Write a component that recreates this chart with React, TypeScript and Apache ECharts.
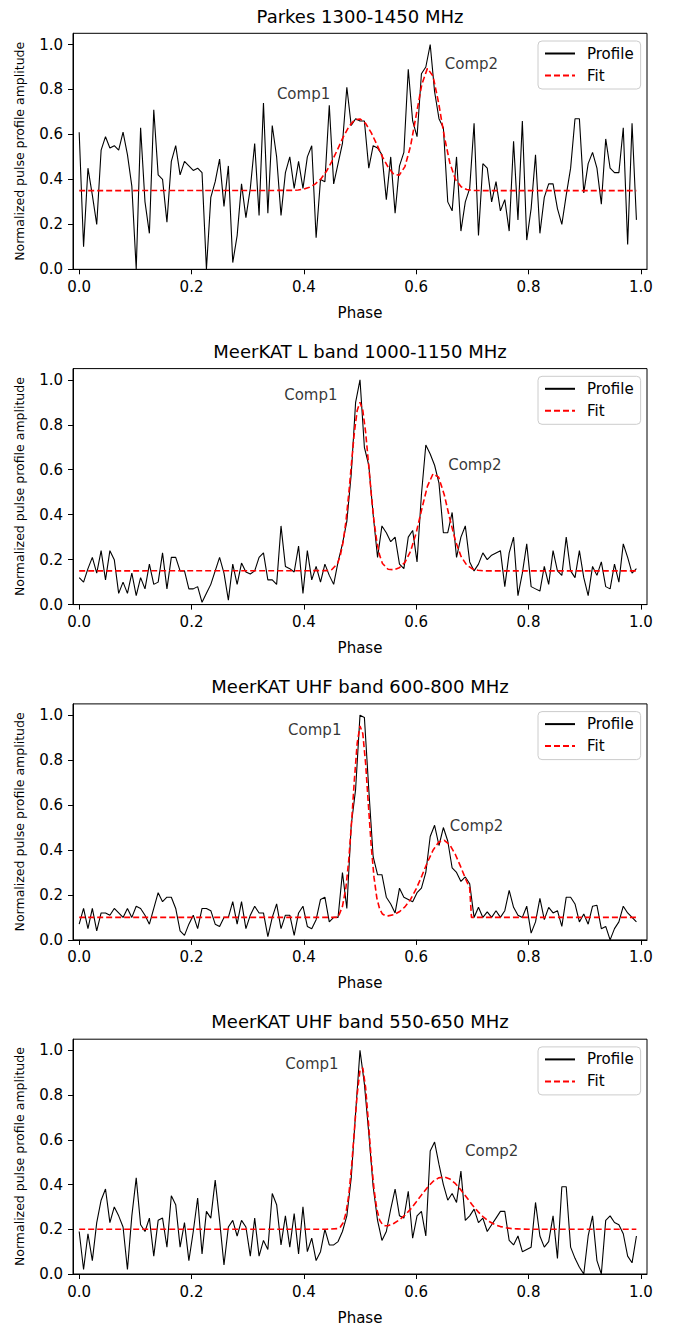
import React, { useEffect, useRef } from 'react';
import * as echarts from 'echarts';

const FONT = '"DejaVu Sans", sans-serif';
const W = 676;
const H = 1326;

const panelTitles = [
  'Parkes 1300-1450 MHz',
  'MeerKAT L band 1000-1150 MHz',
  'MeerKAT UHF band 600-800 MHz',
  'MeerKAT UHF band 550-650 MHz',
];

const xTickValues = [0, 0.2, 0.4, 0.6, 0.8, 1.0];
const yTickValues = [0, 0.2, 0.4, 0.6, 0.8, 1.0];
const nBins = 128;

const profile1 = [
  0.61, 0.10, 0.45, 0.33, 0.20, 0.53, 0.59, 0.54, 0.55, 0.53,
  0.61, 0.51, 0.37, 0.00, 0.63, 0.30, 0.16, 0.71, 0.42, 0.40,
  0.21, 0.48, 0.55, 0.42, 0.48, 0.46, 0.44, 0.45, 0.43, 0.00,
  0.32, 0.39, 0.49, 0.28, 0.46, 0.03, 0.15, 0.38, 0.23, 0.36,
  0.56, 0.24, 0.74, 0.25, 0.64, 0.50, 0.24, 0.43, 0.50, 0.36,
  0.48, 0.36, 0.50, 0.55, 0.14, 0.40, 0.39, 0.73, 0.38, 0.47,
  0.56, 0.81, 0.64, 0.67, 0.66, 0.66, 0.45, 0.55, 0.54, 0.51,
  0.31, 0.50, 0.25, 0.46, 0.52, 0.89, 0.66, 0.59, 0.87, 0.90,
  1.00, 0.79, 0.67, 0.63, 0.30, 0.26, 0.50, 0.17, 0.30, 0.36,
  0.65, 0.15, 0.47, 0.45, 0.30, 0.39, 0.26, 0.31, 0.17, 0.57,
  0.22, 0.66, 0.13, 0.27, 0.51, 0.16, 0.32, 0.38, 0.38, 0.27,
  0.20, 0.33, 0.45, 0.67, 0.67, 0.34, 0.47, 0.52, 0.45, 0.29,
  0.58, 0.45, 0.43, 0.43, 0.63, 0.11, 0.65, 0.22,
];

const profile2 = [
  0.12, 0.10, 0.16, 0.21, 0.14, 0.24, 0.11, 0.24, 0.20, 0.05,
  0.10, 0.05, 0.14, 0.04, 0.12, 0.07, 0.18, 0.09, 0.10, 0.23,
  0.07, 0.21, 0.21, 0.15, 0.15, 0.07, 0.07, 0.08, 0.01, 0.05,
  0.09, 0.15, 0.21, 0.14, 0.02, 0.18, 0.09, 0.185, 0.145, 0.136,
  0.15, 0.21, 0.23, 0.11, 0.11, 0.09, 0.35, 0.17, 0.16, 0.145,
  0.26, 0.05, 0.24, 0.11, 0.17, 0.10, 0.18, 0.13, 0.09, 0.19,
  0.27, 0.37, 0.58, 0.90, 1.00, 0.70, 0.62, 0.40, 0.21, 0.35,
  0.32, 0.28, 0.30, 0.18, 0.16, 0.30, 0.33, 0.19, 0.49, 0.71,
  0.67, 0.62, 0.54, 0.32, 0.32, 0.41, 0.21, 0.30, 0.35, 0.19,
  0.15, 0.18, 0.23, 0.20, 0.22, 0.23, 0.24, 0.08, 0.23, 0.30,
  0.04, 0.14, 0.27, 0.08, 0.07, 0.06, 0.17, 0.09, 0.24, 0.15,
  0.13, 0.30, 0.15, 0.12, 0.24, 0.12, 0.04, 0.17, 0.13, 0.19,
  0.08, 0.07, 0.18, 0.10, 0.27, 0.21, 0.14, 0.16,
];

const profile3 = [
  0.07, 0.14, 0.05, 0.14, 0.04, 0.12, 0.12, 0.11, 0.14, 0.12,
  0.10, 0.14, 0.10, 0.15, 0.14, 0.11, 0.07, 0.14, 0.21, 0.17,
  0.19, 0.19, 0.14, 0.04, 0.02, 0.07, 0.11, 0.05, 0.14, 0.14,
  0.13, 0.07, 0.06, 0.10, 0.10, 0.17, 0.07, 0.17, 0.05, 0.11,
  0.15, 0.12, 0.12, 0.015, 0.10, 0.16, 0.05, 0.11, 0.11, 0.02,
  0.12, 0.15, 0.06, 0.05, 0.09, 0.18, 0.19, 0.08, 0.10, 0.10,
  0.30, 0.14, 0.51, 0.67, 1.00, 0.99, 0.67, 0.37, 0.29, 0.29,
  0.19, 0.16, 0.12, 0.23, 0.19, 0.18, 0.17, 0.21, 0.23, 0.30,
  0.46, 0.51, 0.42, 0.50, 0.44, 0.32, 0.30, 0.26, 0.28, 0.25,
  0.10, 0.145, 0.10, 0.125, 0.10, 0.13, 0.10, 0.13, 0.22, 0.145,
  0.11, 0.10, 0.15, 0.03, 0.08, 0.185, 0.09, 0.145, 0.12, 0.13,
  0.06, 0.19, 0.19, 0.16, 0.08, 0.115, 0.07, 0.15, 0.154, 0.05,
  0.06, 0.00, 0.05, 0.08, 0.15, 0.12, 0.10, 0.08,
];

const profile4 = [
  0.19, 0.02, 0.18, 0.06, 0.23, 0.33, 0.38, 0.23, 0.30, 0.26,
  0.21, 0.02, 0.26, 0.43, 0.22, 0.19, 0.25, 0.08, 0.24, 0.25,
  0.12, 0.35, 0.31, 0.12, 0.23, 0.06, 0.19, 0.34, 0.09, 0.28,
  0.25, 0.42, 0.24, 0.04, 0.21, 0.24, 0.17, 0.24, 0.21, 0.08,
  0.25, 0.08, 0.15, 0.11, 0.36, 0.31, 0.13, 0.26, 0.12, 0.27,
  0.09, 0.30, 0.10, 0.16, 0.06, 0.10, 0.20, 0.13, 0.13, 0.145,
  0.19, 0.26, 0.43, 0.72, 1.00, 0.85, 0.63, 0.39, 0.24, 0.15,
  0.19, 0.29, 0.38, 0.26, 0.25, 0.37, 0.16, 0.26, 0.28, 0.17,
  0.55, 0.59, 0.49, 0.40, 0.33, 0.36, 0.32, 0.46, 0.24, 0.26,
  0.29, 0.23, 0.25, 0.19, 0.22, 0.25, 0.28, 0.28, 0.15, 0.13,
  0.17, 0.10, 0.11, 0.12, 0.32, 0.17, 0.12, 0.145, 0.26, 0.07,
  0.39, 0.39, 0.12, 0.07, 0.03, 0.00, 0.17, 0.26, 0.06, 0.00,
  0.24, 0.26, 0.23, 0.22, 0.18, 0.08, 0.05, 0.17,
];

const fit1 = [
  [0, 0.35], [0.38, 0.351], [0.39, 0.353], [0.40, 0.357], [0.41, 0.365], [0.42, 0.379],
  [0.43, 0.401], [0.44, 0.435], [0.45, 0.48], [0.46, 0.533], [0.47, 0.588], [0.48, 0.634],
  [0.49, 0.664], [0.50, 0.669], [0.51, 0.649], [0.52, 0.608], [0.53, 0.555], [0.54, 0.50],
  [0.55, 0.455], [0.56, 0.423], [0.57, 0.419], [0.58, 0.457], [0.59, 0.548], [0.60, 0.685],
  [0.61, 0.822], [0.62, 0.894], [0.63, 0.86], [0.64, 0.74], [0.65, 0.592], [0.66, 0.473],
  [0.67, 0.40], [0.68, 0.367], [0.69, 0.355], [0.70, 0.351], [0.72, 0.35], [0.992, 0.35],
];

const fit2 = [
  [0, 0.15], [0.44, 0.151], [0.45, 0.156], [0.46, 0.183], [0.465, 0.219], [0.47, 0.279],
  [0.475, 0.371], [0.48, 0.493], [0.485, 0.633], [0.49, 0.767], [0.495, 0.864], [0.50, 0.90],
  [0.505, 0.864], [0.51, 0.767], [0.515, 0.633], [0.52, 0.493], [0.525, 0.371], [0.53, 0.279],
  [0.535, 0.219], [0.54, 0.183], [0.55, 0.157], [0.56, 0.155], [0.57, 0.164], [0.58, 0.188],
  [0.59, 0.237], [0.60, 0.319], [0.61, 0.425], [0.62, 0.526], [0.63, 0.582], [0.64, 0.567],
  [0.65, 0.489], [0.66, 0.381], [0.67, 0.283], [0.68, 0.214], [0.69, 0.176], [0.70, 0.159],
  [0.71, 0.153], [0.72, 0.15], [0.992, 0.15],
];

const fit3 = [
  [0, 0.10], [0.4609, 0.10], [0.46875, 0.149], [0.475, 0.234], [0.48, 0.355], [0.485, 0.524],
  [0.49, 0.713], [0.495, 0.875], [0.50, 0.952], [0.505, 0.918], [0.51, 0.785], [0.515, 0.599],
  [0.52, 0.418], [0.525, 0.277], [0.53, 0.186], [0.535, 0.137], [0.54, 0.115], [0.545, 0.108],
  [0.55, 0.107], [0.56, 0.112], [0.57, 0.125], [0.58, 0.147], [0.59, 0.18], [0.60, 0.227],
  [0.61, 0.284], [0.62, 0.345], [0.63, 0.399], [0.64, 0.435], [0.65, 0.443], [0.66, 0.423],
  [0.67, 0.379], [0.68, 0.321], [0.69, 0.26], [0.6953, 0.231], [0.6985, 0.10], [0.992, 0.10],
];

const fit4 = [
  [0, 0.20], [0.44, 0.20], [0.46, 0.203], [0.465, 0.21], [0.47, 0.229], [0.475, 0.272],
  [0.48, 0.353], [0.485, 0.48], [0.49, 0.643], [0.495, 0.804], [0.50, 0.912], [0.505, 0.922],
  [0.51, 0.833], [0.515, 0.678], [0.52, 0.512], [0.525, 0.378], [0.53, 0.289], [0.535, 0.241],
  [0.54, 0.221], [0.545, 0.216], [0.55, 0.216], [0.56, 0.226], [0.57, 0.242], [0.58, 0.263],
  [0.59, 0.29], [0.60, 0.322], [0.61, 0.355], [0.62, 0.387], [0.63, 0.414], [0.64, 0.43],
  [0.65, 0.434], [0.66, 0.425], [0.67, 0.404], [0.68, 0.375], [0.69, 0.342], [0.70, 0.309],
  [0.71, 0.279], [0.72, 0.254], [0.73, 0.235], [0.74, 0.221], [0.75, 0.212], [0.76, 0.207],
  [0.77, 0.203], [0.78, 0.202], [0.80, 0.20], [0.992, 0.20],
];

const annotations1 = [[0.352, 0.78, 'Comp1'], [0.651, 0.914, 'Comp2']];
const annotations2 = [[0.365, 0.932, 'Comp1'], [0.657, 0.622, 'Comp2']];
const annotations3 = [[0.372, 0.932, 'Comp1'], [0.66, 0.505, 'Comp2']];
const annotations4 = [[0.367, 0.937, 'Comp1'], [0.687, 0.551, 'Comp2']];

const profiles = [profile1, profile2, profile3, profile4];
const fits = [fit1, fit2, fit3, fit4];
const annotations = [annotations1, annotations2, annotations3, annotations4];

// layout (pixels)
const GRID_LEFT = 73;
const GRID_TOP = 33.3;
const GRID_W = 574;
const GRID_H = 236;
const PANEL_STEP = 335.3;
const LABEL_SIZE = 15;

export default function App() {
  const ref = useRef<HTMLDivElement>(null);

  useEffect(() => {
    if (!ref.current) return;
    const chart = echarts.init(ref.current, null, { renderer: 'svg', width: W, height: H });

    const grid: any[] = [];
    const xAxis: any[] = [];
    const yAxis: any[] = [];
    const series: any[] = [];
    const legend: any[] = [];
    const graphic: any[] = [];

    panelTitles.forEach((title, k) => {
      const top = GRID_TOP + PANEL_STEP * k;
      grid.push({
        left: GRID_LEFT, top, width: GRID_W, height: GRID_H,
        show: true, borderColor: '#000', borderWidth: 1, backgroundColor: '#fff',
        containLabel: false,
      });
      xAxis.push({
        type: 'value', gridIndex: k, min: -0.011, max: 1.011,
        splitLine: { show: false },
        axisLine: { show: true, onZero: false, lineStyle: { color: '#000', width: 1 } },
        axisTick: { show: true, length: 5, inside: false, customValues: xTickValues, lineStyle: { color: '#000', width: 1 } },
        axisLabel: {
          customValues: xTickValues, color: '#000', fontSize: LABEL_SIZE, fontFamily: FONT, margin: 10,
          formatter: (v: number) => v.toFixed(1),
        },
        name: 'Phase', nameLocation: 'middle', nameGap: 36,
        nameTextStyle: { color: '#000', fontSize: LABEL_SIZE, fontFamily: FONT },
      });
      yAxis.push({
        type: 'value', gridIndex: k, min: 0, max: 1.05,
        splitLine: { show: false },
        axisLine: { show: true, onZero: false, lineStyle: { color: '#000', width: 1 } },
        axisTick: { show: true, length: 5, inside: false, customValues: yTickValues, lineStyle: { color: '#000', width: 1 } },
        axisLabel: {
          customValues: yTickValues, color: '#000', fontSize: LABEL_SIZE, fontFamily: FONT, margin: 10,
          formatter: (v: number) => v.toFixed(1),
        },
        name: 'Normalized pulse profile amplitude', nameLocation: 'middle', nameGap: 47,
        nameRotate: 90,
        nameTextStyle: { color: '#000', fontSize: 12.5, fontFamily: FONT },
      });
      series.push({
        type: 'line', name: 'Profile', xAxisIndex: k, yAxisIndex: k,
        data: profiles[k].map((v, i) => [i / nBins, v]),
        symbol: 'none', showSymbol: false, silent: true,
        lineStyle: { color: '#000', width: 1.1 }, itemStyle: { color: '#000' },
      });
      series.push({
        type: 'line', name: 'Fit', xAxisIndex: k, yAxisIndex: k,
        data: fits[k], symbol: 'none', showSymbol: false, silent: true,
        lineStyle: { color: '#ff0000', width: 1.6, type: [6, 3] }, itemStyle: { color: '#ff0000' },
        z: 3,
      });
      series.push({
        type: 'scatter', name: 'labels', xAxisIndex: k, yAxisIndex: k, symbolSize: 0, silent: true,
        data: annotations[k].map((a) => ({ value: [a[0], a[1]], name: a[2] })),
        label: {
          show: true, position: [0, 0], align: 'left', verticalAlign: 'middle',
          formatter: (p: any) => p.name, color: '#000', fontSize: LABEL_SIZE, fontFamily: FONT,
        },
      });
      legend.push({
        data: ['Profile', 'Fit'], orient: 'vertical', left: 538, top: 41 + PANEL_STEP * k,
        itemWidth: 30, itemHeight: 14, itemGap: 7, padding: [5, 7, 6, 6],
        borderColor: '#cccccc', borderWidth: 1, borderRadius: 4,
        backgroundColor: 'rgba(255,255,255,0.8)', selectedMode: false,
        itemStyle: { opacity: 0 },
        textStyle: { color: '#000', fontSize: LABEL_SIZE, fontFamily: FONT, padding: [0, 0, 0, 7] },
      });
      graphic.push({
        type: 'text', x: GRID_LEFT + GRID_W / 2, y: 16 + PANEL_STEP * k,
        style: {
          text: title, fill: '#000', font: `18px ${FONT}`, align: 'center', verticalAlign: 'middle',
        },
      });
    });

    chart.setOption({
      animation: false,
      backgroundColor: '#fff',
      grid, xAxis, yAxis, series, legend, graphic,
    });
    return () => chart.dispose();
  }, []);

  return <div ref={ref} style={{ position: 'absolute', left: 0, top: 0, width: W, height: H }} />;
}
